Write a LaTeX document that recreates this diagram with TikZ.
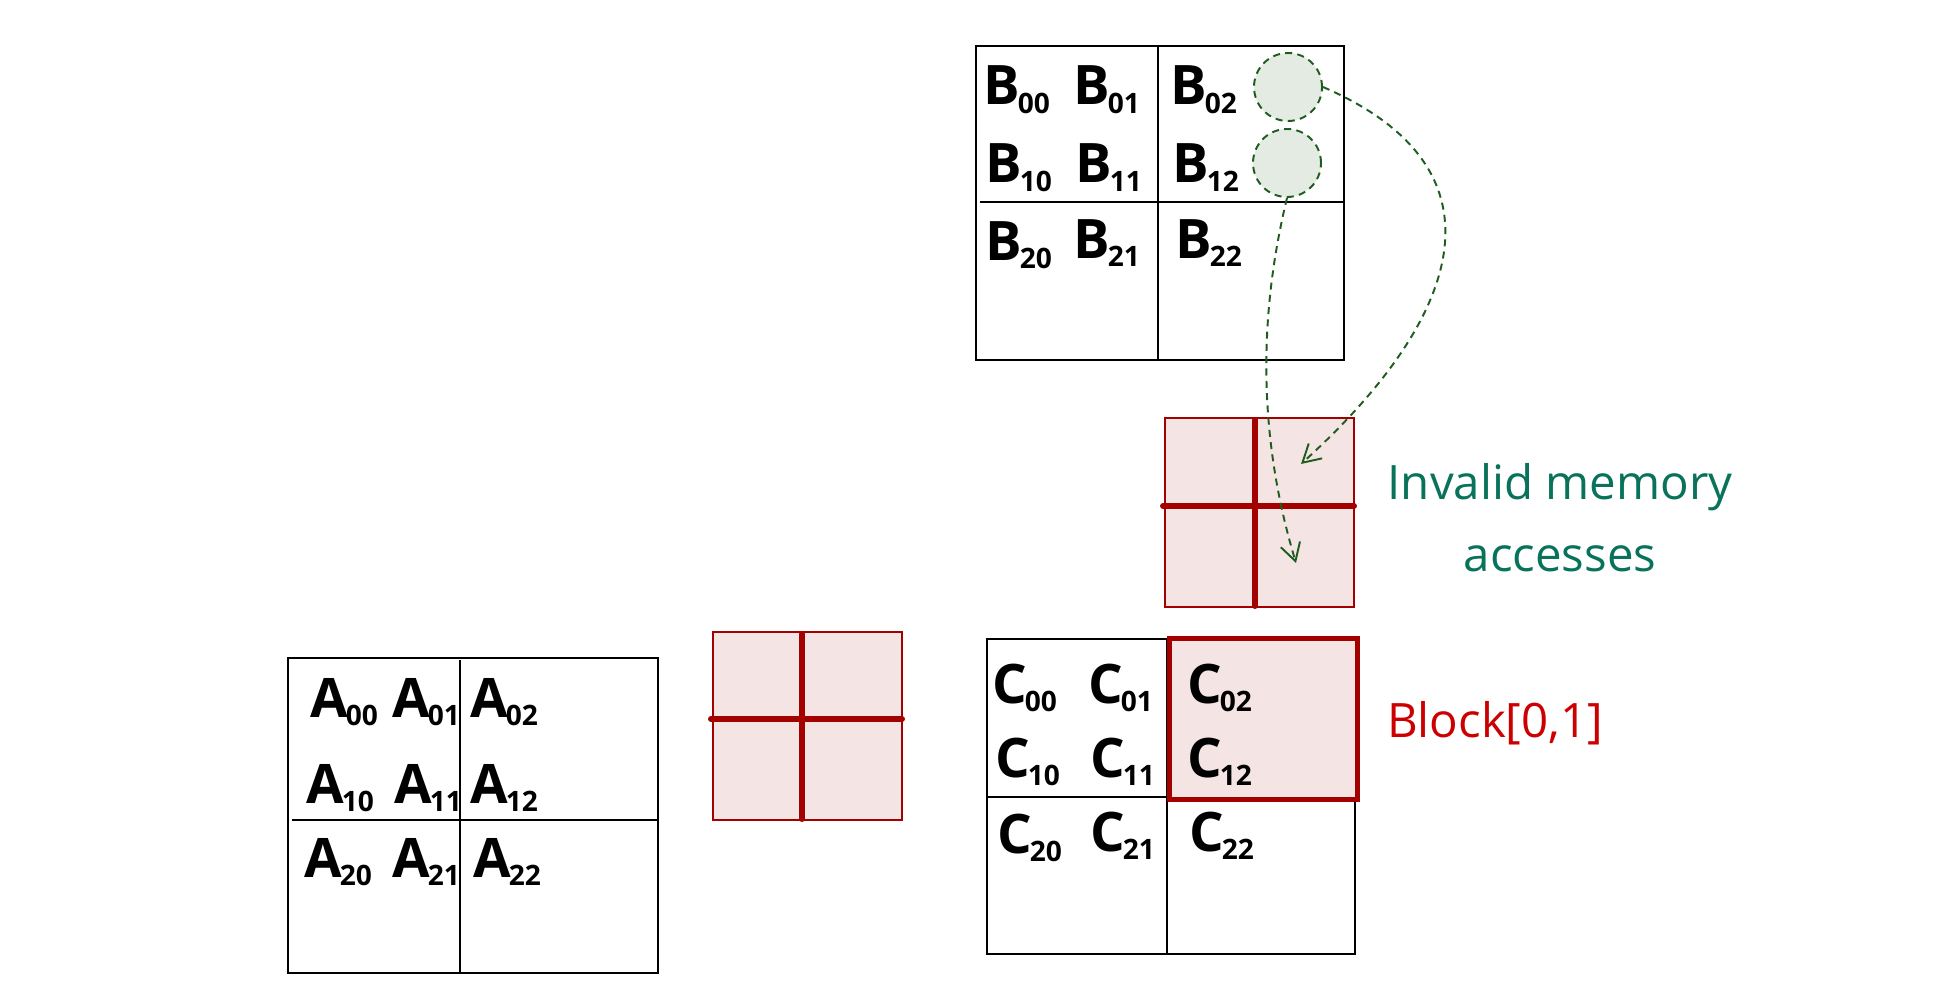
\documentclass[tikz,border=0pt]{standalone}
\usepackage{fontspec}
\setmainfont{Open Sans}
\usetikzlibrary{arrows.meta}
\definecolor{blkred}{HTML}{A30000}
\definecolor{pinkfill}{HTML}{F5E4E4}
\definecolor{labgreen}{HTML}{08735A}
\definecolor{arrgreen}{HTML}{1F5C1F}
\definecolor{circfill}{HTML}{E4EBE3}
\definecolor{labred}{HTML}{CC0000}
\newcommand{\ment}[2]{#1{\kern-0.04em\fontsize{16}{18}\selectfont\raisebox{-0.3em}{#2}}}
\begin{document}
\begin{tikzpicture}[x=0.02cm,y=-0.02cm,
  gridbox/.style={draw=black,line width=1.1pt,fill=white,inner sep=0pt,anchor=north west},
  divline/.style={draw=black,line width=1.1pt},
  redbox/.style={draw=blkred,line width=0.9pt,fill=pinkfill,inner sep=0pt,anchor=north west},
  redcross/.style={draw=blkred,line width=3.4pt,line cap=round},
  entry/.style={anchor=base west,inner sep=0pt,font=\fontsize{31}{36}\selectfont\bfseries},
  accessc/.style={circle,draw=arrgreen,fill=circfill,dash pattern=on 4pt off 3pt,line width=1.1pt,minimum size=1.36cm,inner sep=0pt},
  dasharrow/.style={draw=arrgreen,line width=1.1pt,dash pattern=on 4pt off 3pt,-{Straight Barb[length=3.5mm,width=4mm]}},
]
\fill[white] (0,0) rectangle (1939,1000);
\useasboundingbox (0,0) rectangle (1939,1000);

% ---- B matrix ----
\node[gridbox,minimum width=7.36cm,minimum height=6.28cm] (Bbox) at (975,45) {};
\draw[divline] (1158,47) -- (1158,359);
\draw[divline] (980,202) -- (1343,202);
\node[entry] (b00) at (983,105) {\ment{B}{00}};
\node[entry] (b01) at (1073,105) {\ment{B}{01}};
\node[entry] (b02) at (1170,105) {\ment{B}{02}};
\node[entry] (b10) at (985,183) {\ment{B}{10}};
\node[entry] (b11) at (1075,183) {\ment{B}{11}};
\node[entry] (b12) at (1172,183) {\ment{B}{12}};
\node[entry] (b20) at (985,260) {\ment{B}{20}};
\node[entry] (b21) at (1073,258) {\ment{B}{21}};
\node[entry] (b22) at (1175,258) {\ment{B}{22}};
\node[accessc] (c1) at (1288,87) {};
\node[accessc] (c2) at (1287,163) {};

% ---- upper red block ----
\node[redbox,minimum width=3.78cm,minimum height=3.78cm] (ublk) at (1164,417) {};
\draw[redcross] (1255,420) -- (1255,606);
\draw[redcross] (1163,506) -- (1354,506);

% ---- middle red block ----
\node[redbox,minimum width=3.78cm,minimum height=3.76cm] (mblk) at (712,631) {};
\draw[redcross] (802,634) -- (802,819);
\draw[redcross] (711,719) -- (902,719);

% ---- A matrix ----
\node[gridbox,minimum width=7.40cm,minimum height=6.30cm] (Abox) at (287,657) {};
\draw[divline] (460,660) -- (460,972);
\draw[divline] (292,820) -- (657,820);
\node[entry] (a00) at (310,717) {\ment{A}{00}};
\node[entry] (a01) at (392,717) {\ment{A}{01}};
\node[entry] (a02) at (470,717) {\ment{A}{02}};
\node[entry] (a10) at (306,803) {\ment{A}{10}};
\node[entry] (a11) at (394,803) {\ment{A}{11}};
\node[entry] (a12) at (470,803) {\ment{A}{12}};
\node[entry] (a20) at (304,877) {\ment{A}{20}};
\node[entry] (a21) at (392,877) {\ment{A}{21}};
\node[entry] (a22) at (473,877) {\ment{A}{22}};

% ---- C matrix ----
\node[gridbox,minimum width=7.36cm,minimum height=6.30cm] (Cbox) at (986,638) {};
\draw[divline] (1167,640) -- (1167,953);
\draw[divline] (988,797) -- (1354,797);
\node[draw=blkred,line width=2.8pt,fill=pinkfill,inner sep=0pt,anchor=north west,minimum width=3.76cm,minimum height=3.22cm] (hblk) at (1167,636) {};
\node[entry] (cc00) at (992,703) {\ment{C}{00}};
\node[entry] (cc01) at (1088,703) {\ment{C}{01}};
\node[entry] (cc02) at (1187,703) {\ment{C}{02}};
\node[entry] (cc10) at (995,777) {\ment{C}{10}};
\node[entry] (cc11) at (1090,777) {\ment{C}{11}};
\node[entry] (cc12) at (1187,777) {\ment{C}{12}};
\node[entry] (cc20) at (997,853) {\ment{C}{20}};
\node[entry] (cc21) at (1090,851) {\ment{C}{21}};
\node[entry] (cc22) at (1189,851) {\ment{C}{22}};

% ---- labels ----
\node[text=labgreen,align=center,font=\fontsize{27}{41}\selectfont] (inv) at (1560,518) {Invalid memory\\accesses};
\node[text=labred,font=\fontsize{27}{30}\selectfont] (blk) at (1495,723) {Block[0,1]};

% ---- arrows ----
\coordinate (t1) at (1301,464);
\coordinate (t2) at (1296,563);
\draw[dasharrow] (c1.east) .. controls (1515,170) and (1460,320) .. (t1);
\draw[dasharrow] (c2.south) .. controls (1255,330) and (1262,450) .. (t2);
\end{tikzpicture}
\end{document}
